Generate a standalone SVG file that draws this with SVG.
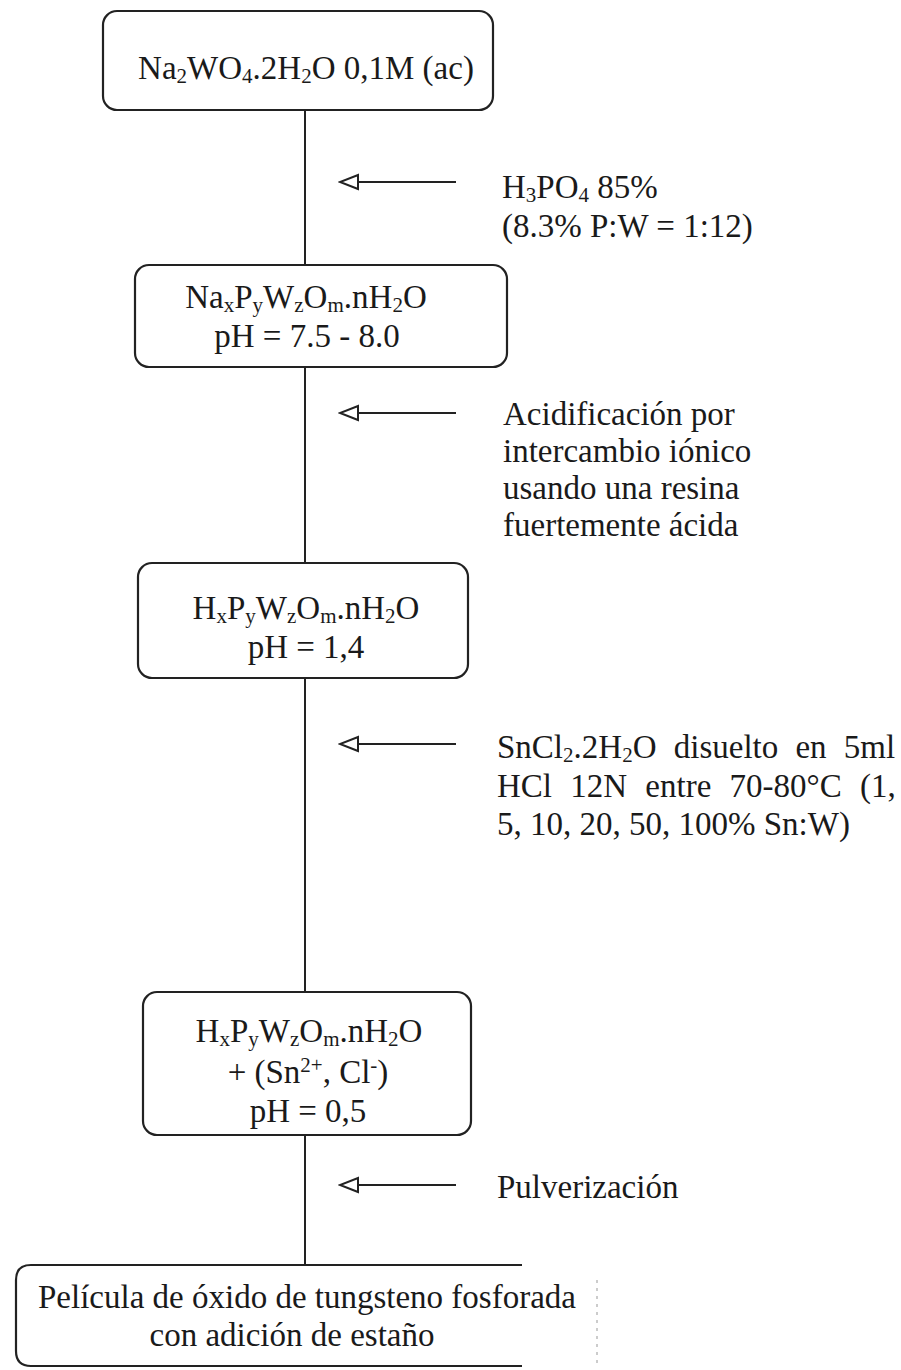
<svg xmlns="http://www.w3.org/2000/svg" width="901" height="1370" viewBox="0 0 901 1370">
<style>
.box{fill:#fff;stroke:#222;stroke-width:2.2}
.conn{stroke:#222;stroke-width:2;fill:none}
.t{font-family:"Liberation Serif","Times New Roman",serif;font-size:33px;fill:#1a1a1a}
.c{text-anchor:middle}
.s{font-size:21px}
</style>
<defs>
<marker id="oa" viewBox="0 0 22 18" refX="20" refY="9" markerWidth="22" markerHeight="18" markerUnits="userSpaceOnUse" orient="auto">
<path d="M2,2 L20,9 L2,16 Z" fill="#fff" stroke="#222" stroke-width="2"/>
</marker>
</defs>
<rect width="901" height="1370" fill="#fff"/>
<g id="connectors">
<line class="conn" x1="305" y1="110" x2="305" y2="265"/>
<line class="conn" x1="305" y1="367" x2="305" y2="563"/>
<line class="conn" x1="305" y1="678" x2="305" y2="992"/>
<line class="conn" x1="305" y1="1135" x2="305" y2="1265"/>
<line class="conn" x1="456" y1="182" x2="340" y2="182" marker-end="url(#oa)"/>
<line class="conn" x1="456" y1="413" x2="340" y2="413" marker-end="url(#oa)"/>
<line class="conn" x1="456" y1="744" x2="340" y2="744" marker-end="url(#oa)"/>
<line class="conn" x1="456" y1="1185" x2="340" y2="1185" marker-end="url(#oa)"/>
</g>
<g id="node1">
<rect class="box" x="103" y="11" width="390" height="99" rx="14"/>
<text class="t c" x="306" y="79">Na<tspan class="s" dy="4">2</tspan><tspan dy="-4">WO</tspan><tspan class="s" dy="4">4</tspan><tspan dy="-4">.2H</tspan><tspan class="s" dy="4">2</tspan><tspan dy="-4">O 0,1M (ac)</tspan></text>
</g>
<g id="label1">
<text class="t" x="502" y="198">H<tspan class="s" dy="4">3</tspan><tspan dy="-4">PO</tspan><tspan class="s" dy="4">4</tspan><tspan dy="-4"> 85%</tspan></text>
<text class="t" x="502" y="237">(8.3% P:W = 1:12)</text>
</g>
<g id="node2">
<rect class="box" x="135" y="265" width="372" height="102" rx="14"/>
<text class="t c" x="306" y="308">Na<tspan class="s" dy="4">x</tspan><tspan dy="-4">P</tspan><tspan class="s" dy="4">y</tspan><tspan dy="-4">W</tspan><tspan class="s" dy="4">z</tspan><tspan dy="-4">O</tspan><tspan class="s" dy="4">m</tspan><tspan dy="-4">.nH</tspan><tspan class="s" dy="4">2</tspan><tspan dy="-4">O</tspan></text>
<text class="t c" x="307" y="347">pH = 7.5 - 8.0</text>
</g>
<g id="label2">
<text class="t" x="503" y="425">Acidificación por</text>
<text class="t" x="503" y="462">intercambio iónico</text>
<text class="t" x="503" y="499">usando una resina</text>
<text class="t" x="503" y="536">fuertemente ácida</text>
</g>
<g id="node3">
<rect class="box" x="138" y="563" width="330" height="115" rx="14"/>
<text class="t c" x="306" y="619">H<tspan class="s" dy="4">x</tspan><tspan dy="-4">P</tspan><tspan class="s" dy="4">y</tspan><tspan dy="-4">W</tspan><tspan class="s" dy="4">z</tspan><tspan dy="-4">O</tspan><tspan class="s" dy="4">m</tspan><tspan dy="-4">.nH</tspan><tspan class="s" dy="4">2</tspan><tspan dy="-4">O</tspan></text>
<text class="t c" x="306" y="658">pH = 1,4</text>
</g>
<g id="label3">
<text class="t" x="497" y="758" word-spacing="9">SnCl<tspan class="s" dy="4">2</tspan><tspan dy="-4">.2H</tspan><tspan class="s" dy="4">2</tspan><tspan dy="-4">O disuelto en 5ml</tspan></text>
<text class="t" x="497" y="797" word-spacing="10">HCl 12N entre 70-80°C (1,</text>
<text class="t" x="497" y="835">5, 10, 20, 50, 100% Sn:W)</text>
</g>
<g id="node4">
<rect class="box" x="143" y="992" width="328" height="143" rx="14"/>
<text class="t c" x="309" y="1042">H<tspan class="s" dy="4">x</tspan><tspan dy="-4">P</tspan><tspan class="s" dy="4">y</tspan><tspan dy="-4">W</tspan><tspan class="s" dy="4">z</tspan><tspan dy="-4">O</tspan><tspan class="s" dy="4">m</tspan><tspan dy="-4">.nH</tspan><tspan class="s" dy="4">2</tspan><tspan dy="-4">O</tspan></text>
<text class="t c" x="308" y="1083">+ (Sn<tspan class="s" dy="-11">2+</tspan><tspan dy="11">, Cl</tspan><tspan class="s" dy="-11">-</tspan><tspan dy="11">)</tspan></text>
<text class="t c" x="308" y="1122">pH = 0,5</text>
</g>
<g id="label4">
<text class="t" x="497" y="1198">Pulverización</text>
</g>
<g id="node5">
<path class="box" d="M522,1265 H31 Q16,1265 16,1280 V1351 Q16,1366 31,1366 H522" fill="none"/>
<line x1="597" y1="1280" x2="597" y2="1366" stroke="#999" stroke-width="1" stroke-dasharray="3,5"/>
<text class="t c" x="307" y="1308">Película de óxido de tungsteno fosforada</text>
<text class="t c" x="292" y="1346">con adición de estaño</text>
</g>
</svg>
